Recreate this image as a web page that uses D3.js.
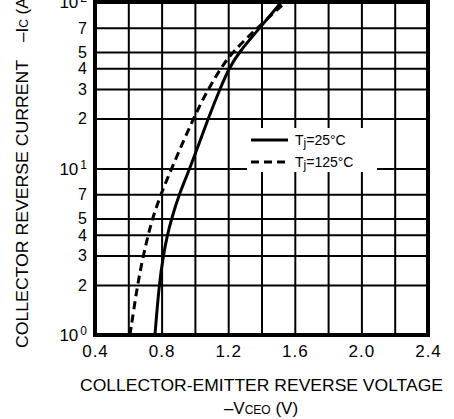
<!DOCTYPE html>
<html>
<head>
<meta charset="utf-8">
<script src="https://cdn.jsdelivr.net/npm/d3@7"></script>
<style>
    body { margin: 0; background: #fff; }
    svg { display: block; font-family: "Liberation Sans", Arial, sans-serif; }
</style>
</head>
<body>
<script>
let current = [1, 2, 3, 4, 5, 7, 10, 20, 30, 40, 50, 70, 100];
let volts25 = [0.76, 0.785, 0.81, 0.835, 0.86, 0.905, 0.97, 1.08, 1.15, 1.205, 1.265, 1.39, 1.52];
let volts125 = [0.61, 0.655, 0.69, 0.72, 0.745, 0.795, 0.86, 0.99, 1.08, 1.155, 1.225, 1.375, 1.545];

let xTicks = [0.4, 0.8, 1.2, 1.6, 2.0, 2.4];
let xGrid = [0.6, 0.8, 1.0, 1.2, 1.4, 1.6, 1.8, 2.0, 2.2];
let decades = [1, 10, 100];
let decadeExp = ['0', '1', '2'];
let minorTicks = [2, 3, 4, 5, 7, 20, 30, 40, 50, 70];

let legendItems = [
    { label: '25°C', dash: null, volts: volts25 },
    { label: '125°C', dash: '8,5', volts: volts125 }
];

let width = 454, height = 419;
let plot = { left: 95, right: 428, top: 2, bottom: 335 };

let x = d3.scaleLinear().domain([0.4, 2.4]).range([plot.left, plot.right]),
    y = d3.scaleLog().domain([1, 100]).range([plot.bottom, plot.top]);

let svg = d3.select('body').append('svg')
            .attr('width', width)
            .attr('height', height);

// grid
svg.append('g').attr('class', 'grid-x')
   .attr('transform', `translate(0, ${plot.bottom})`)
   .call(d3.axisBottom(x).tickValues(xGrid).tickSize(-(plot.bottom - plot.top)).tickFormat(''))
   .call(g => g.select('.domain').remove())
   .selectAll('line').attr('stroke', '#000').attr('stroke-width', 2);

svg.append('g').attr('class', 'grid-y')
   .attr('transform', `translate(${plot.left}, 0)`)
   .call(d3.axisLeft(y).tickValues(minorTicks.concat([10])).tickSize(-(plot.right - plot.left)).tickFormat(''))
   .call(g => g.select('.domain').remove())
   .selectAll('line').attr('stroke', '#000').attr('stroke-width', 2);

// legend background cuts the grid
svg.append('rect')
   .attr('x', 247).attr('y', 128)
   .attr('width', 130).attr('height', 44)
   .attr('fill', '#fff');

// curves
let line = volts => d3.line()
    .x((d, i) => x(volts[i]))
    .y(d => y(d))
    .curve(d3.curveBasis)(current);

legendItems.forEach(s => {
    svg.append('path')
       .attr('d', line(s.volts))
       .attr('fill', 'none')
       .attr('stroke', '#000')
       .attr('stroke-width', 3)
       .attr('stroke-dasharray', s.dash);
});

// frame
svg.append('rect')
   .attr('x', plot.left).attr('y', plot.top)
   .attr('width', plot.right - plot.left)
   .attr('height', plot.bottom - plot.top)
   .attr('fill', 'none')
   .attr('stroke', '#000')
   .attr('stroke-width', 4);

// x tick labels
svg.append('g').attr('class', 'x axis')
   .attr('transform', `translate(0, ${plot.bottom})`)
   .call(d3.axisBottom(x).tickValues(xTicks).tickSize(0).tickPadding(10).tickFormat(d3.format('.1f')))
   .call(g => g.select('.domain').remove())
   .selectAll('text')
   .attr('font-size', 17)
   .attr('letter-spacing', 1)
   .attr('font-family', '"Liberation Sans", Arial, sans-serif')
   .attr('fill', '#000');

// y tick labels
let yLab = svg.append('g').attr('class', 'y axis');

minorTicks.forEach(v => {
    yLab.append('text')
        .attr('x', 87).attr('y', y(v)).attr('dy', '0.36em')
        .attr('text-anchor', 'end')
        .attr('font-size', 16)
        .text(String(v).charAt(0));
});

decades.forEach((v, i) => {
    let t = yLab.append('text')
        .attr('x', 87).attr('y', y(v)).attr('dy', '0.36em')
        .attr('text-anchor', 'end')
        .attr('font-size', 17);
    t.append('tspan').text('10');
    t.append('tspan').attr('dx', 2).attr('dy', -6).attr('font-size', 12).text(decadeExp[i]);
});

// legend
legendItems.forEach((s, i) => {
    let ly = 140 + i * 22;
    svg.append('line')
       .attr('x1', 251).attr('x2', 288)
       .attr('y1', ly).attr('y2', ly)
       .attr('stroke', '#000')
       .attr('stroke-width', 3)
       .attr('stroke-dasharray', s.dash);
    let t = svg.append('text')
       .attr('x', 295).attr('y', ly + 5)
       .attr('font-size', 14);
    t.append('tspan').text('T');
    t.append('tspan').attr('dy', 2).attr('font-size', 12).text('j');
    t.append('tspan').attr('dy', -2).text('=' + s.label);
});

// axis titles
svg.append('text')
   .attr('x', 80).attr('y', 391)
   .attr('font-size', 17)
   .attr('textLength', 363)
   .attr('lengthAdjust', 'spacingAndGlyphs')
   .text('COLLECTOR-EMITTER REVERSE VOLTAGE');

let xt = svg.append('text')
   .attr('x', 261).attr('y', 414)
   .attr('text-anchor', 'middle')
   .attr('font-size', 17);
xt.append('tspan').text('–V');
xt.append('tspan').attr('font-size', 12).text('CEO');
xt.append('tspan').text(' (V)');

let yt = svg.append('text')
   .attr('transform', 'translate(28, 348) rotate(-90)')
   .attr('font-size', 17);
yt.append('tspan').attr('textLength', 288).attr('lengthAdjust', 'spacingAndGlyphs').text('COLLECTOR REVERSE CURRENT');
yt.append('tspan').attr('dx', 18).text('–I');
yt.append('tspan').attr('font-size', 12).text('C');
yt.append('tspan').text(' (A)');
</script>
</body>
</html>
